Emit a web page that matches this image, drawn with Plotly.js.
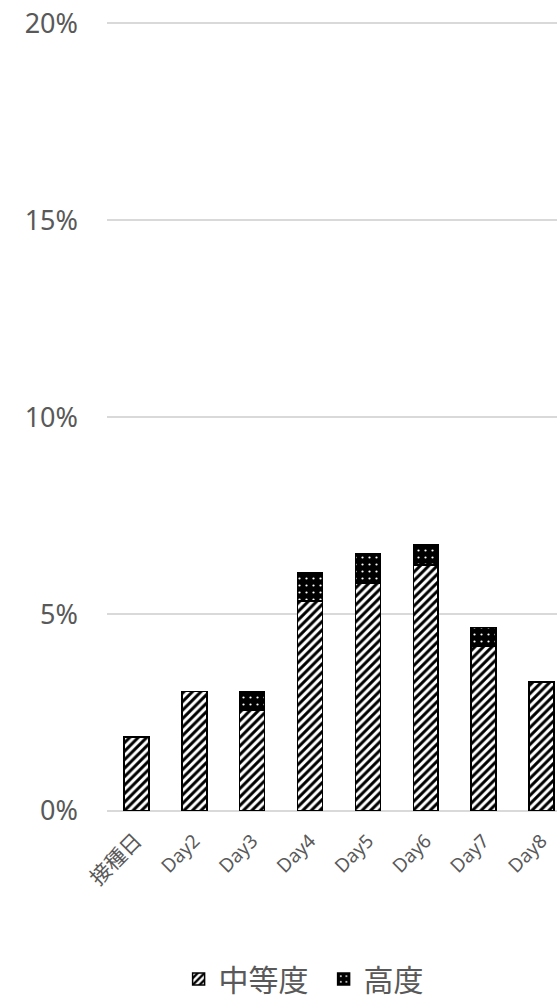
<!DOCTYPE html>
<html>
<head>
<meta charset="utf-8">
<script src="https://cdn.plot.ly/plotly-3.0.1.min.js"></script>
<style>html,body{margin:0;padding:0;background:#fff;}#chart{width:557px;height:1005px;}</style>
</head>
<body>
<div id="chart"></div>
<script>
const categories = ["接種日", "Day2", "Day3", "Day4", "Day5", "Day6", "Day7", "Day8"];
const moderate = [1.88, 3.04, 2.56, 5.33, 5.79, 6.24, 4.17, 3.27];
const severe = [0, 0, 0.48, 0.73, 0.73, 0.52, 0.49, 0];
const seriesNames = ["中等度", "高度"];
const yTickVals = [0, 5, 10, 15, 20];
const yTickText = ["0%", "5%", "10%", "15%", "20%"];

const font = '"Noto Sans", "Noto Sans CJK JP", sans-serif';
const xTickText = categories.map(c => /^[A-Za-z]/.test(c) ? c : '<span style="font-size:21px">' + c + '</span>');
const traces = [
  {
    type: 'bar', name: seriesNames[0], x: categories, y: moderate, width: 0.43,
    marker: {color: 'white', line: {color: 'black', width: 1.5},
      pattern: {shape: '/', fgcolor: 'black', bgcolor: 'white', size: 6, solidity: 0.5}},
    hoverinfo: 'skip'
  },
  {
    type: 'bar', name: seriesNames[1], x: categories, y: severe, width: 0.43,
    marker: {color: 'black', line: {color: 'black', width: 1.5},
      pattern: {shape: '.', fgcolor: 'white', bgcolor: 'black', size: 7, solidity: 0.08}},
    hoverinfo: 'skip'
  }
];
const layout = {
  width: 557, height: 1005,
  margin: {l: 107, r: 0, t: 22, b: 194},
  paper_bgcolor: 'white', plot_bgcolor: 'white',
  barmode: 'stack',
  showlegend: true,
  font: {family: font, color: '#595959'},
  xaxis: {
    type: 'category', range: [-0.51, 7.27],
    tickmode: 'array', tickvals: categories, ticktext: xTickText,
    tickangle: -45, tickfont: {size: 19, family: font, color: '#595959'},
    showgrid: false, zeroline: false, showline: false, ticks: '',
    ticklabelstandoff: 14
  },
  yaxis: {
    range: [0, 20.03], tickvals: yTickVals, ticktext: yTickText,
    tickfont: {size: 27, family: font, color: '#595959'},
    showgrid: true, gridcolor: '#d9d9d9', gridwidth: 1.5,
    zeroline: true, zerolinecolor: '#d9d9d9', zerolinewidth: 1.5,
    showline: false, ticks: '', ticklabelstandoff: 28
  },
  legend: {
    orientation: 'h', traceorder: 'normal',
    xref: 'container', yref: 'container',
    x: 0.581, xanchor: 'center', y: -0.008, yanchor: 'bottom',
    font: {size: 30, family: font, color: '#595959'},
    itemwidth: 30, tracegroupgap: 0, entrywidth: 100
  }
};
Plotly.newPlot('chart', traces, layout, {displayModeBar: false, staticPlot: true});
</script>
</body>
</html>
